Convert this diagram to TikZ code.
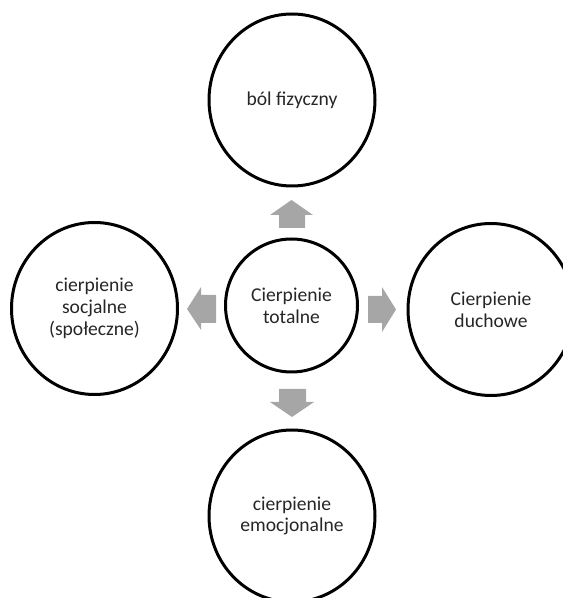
\documentclass[tikz,border=0pt]{standalone}
\usepackage{fontspec}
\setmainfont{Carlito}
\usetikzlibrary{shapes.geometric}
\definecolor{ringcol}{HTML}{000000}
\definecolor{arrcol}{HTML}{A6A6A6}
\definecolor{txtcol}{HTML}{262626}
\tikzset{
  bigring/.style={ellipse, draw=ringcol, line width=3pt, minimum width=166pt, minimum height=172pt, inner sep=0pt, align=center, text=txtcol, font=\fontsize{19.6pt}{21.7pt}\selectfont},
  midring/.style={ellipse, draw=ringcol, line width=3pt, minimum width=132pt, minimum height=133pt, inner sep=0pt, align=center, text=txtcol, font=\fontsize{19.6pt}{21.7pt}\selectfont},
  arrowfill/.style={fill=arrcol, draw=none}
}
\begin{document}
\begin{tikzpicture}[x=1pt,y=1pt]
\useasboundingbox (0,0) rectangle (563,598);
\node[midring] (c) at (291.5,292.5) {Cierpienie\\totalne};
\node[bigring] (t) at (292,498) {ból fizyczny};
\node[bigring] (l) at (94.5,289.5) {cierpienie\\socjalne\\(społeczne)};
\node[bigring] (r) at (491,288.5) {Cierpienie\\duchowe};
\node[bigring] (b) at (292,82) {cierpienie\\emocjonalne};
% up arrow
\fill[arrowfill] (279,370) -- (279,383) -- (270,383) -- (291.5,398) -- (313,383) -- (305,383) -- (305,370) -- cycle;
% down arrow
\fill[arrowfill] (279,209) -- (279,196) -- (270,196) -- (292,181) -- (314,196) -- (306,196) -- (306,209) -- cycle;
% left arrow
\fill[arrowfill] (216,275) -- (201,275) -- (201,268) -- (187,289) -- (201,311) -- (201,303) -- (216,303) -- cycle;
% right arrow
\fill[arrowfill] (368,275) -- (382,275) -- (382,266) -- (396,288.5) -- (382,311) -- (382,302) -- (368,302) -- cycle;
\end{tikzpicture}
\end{document}
